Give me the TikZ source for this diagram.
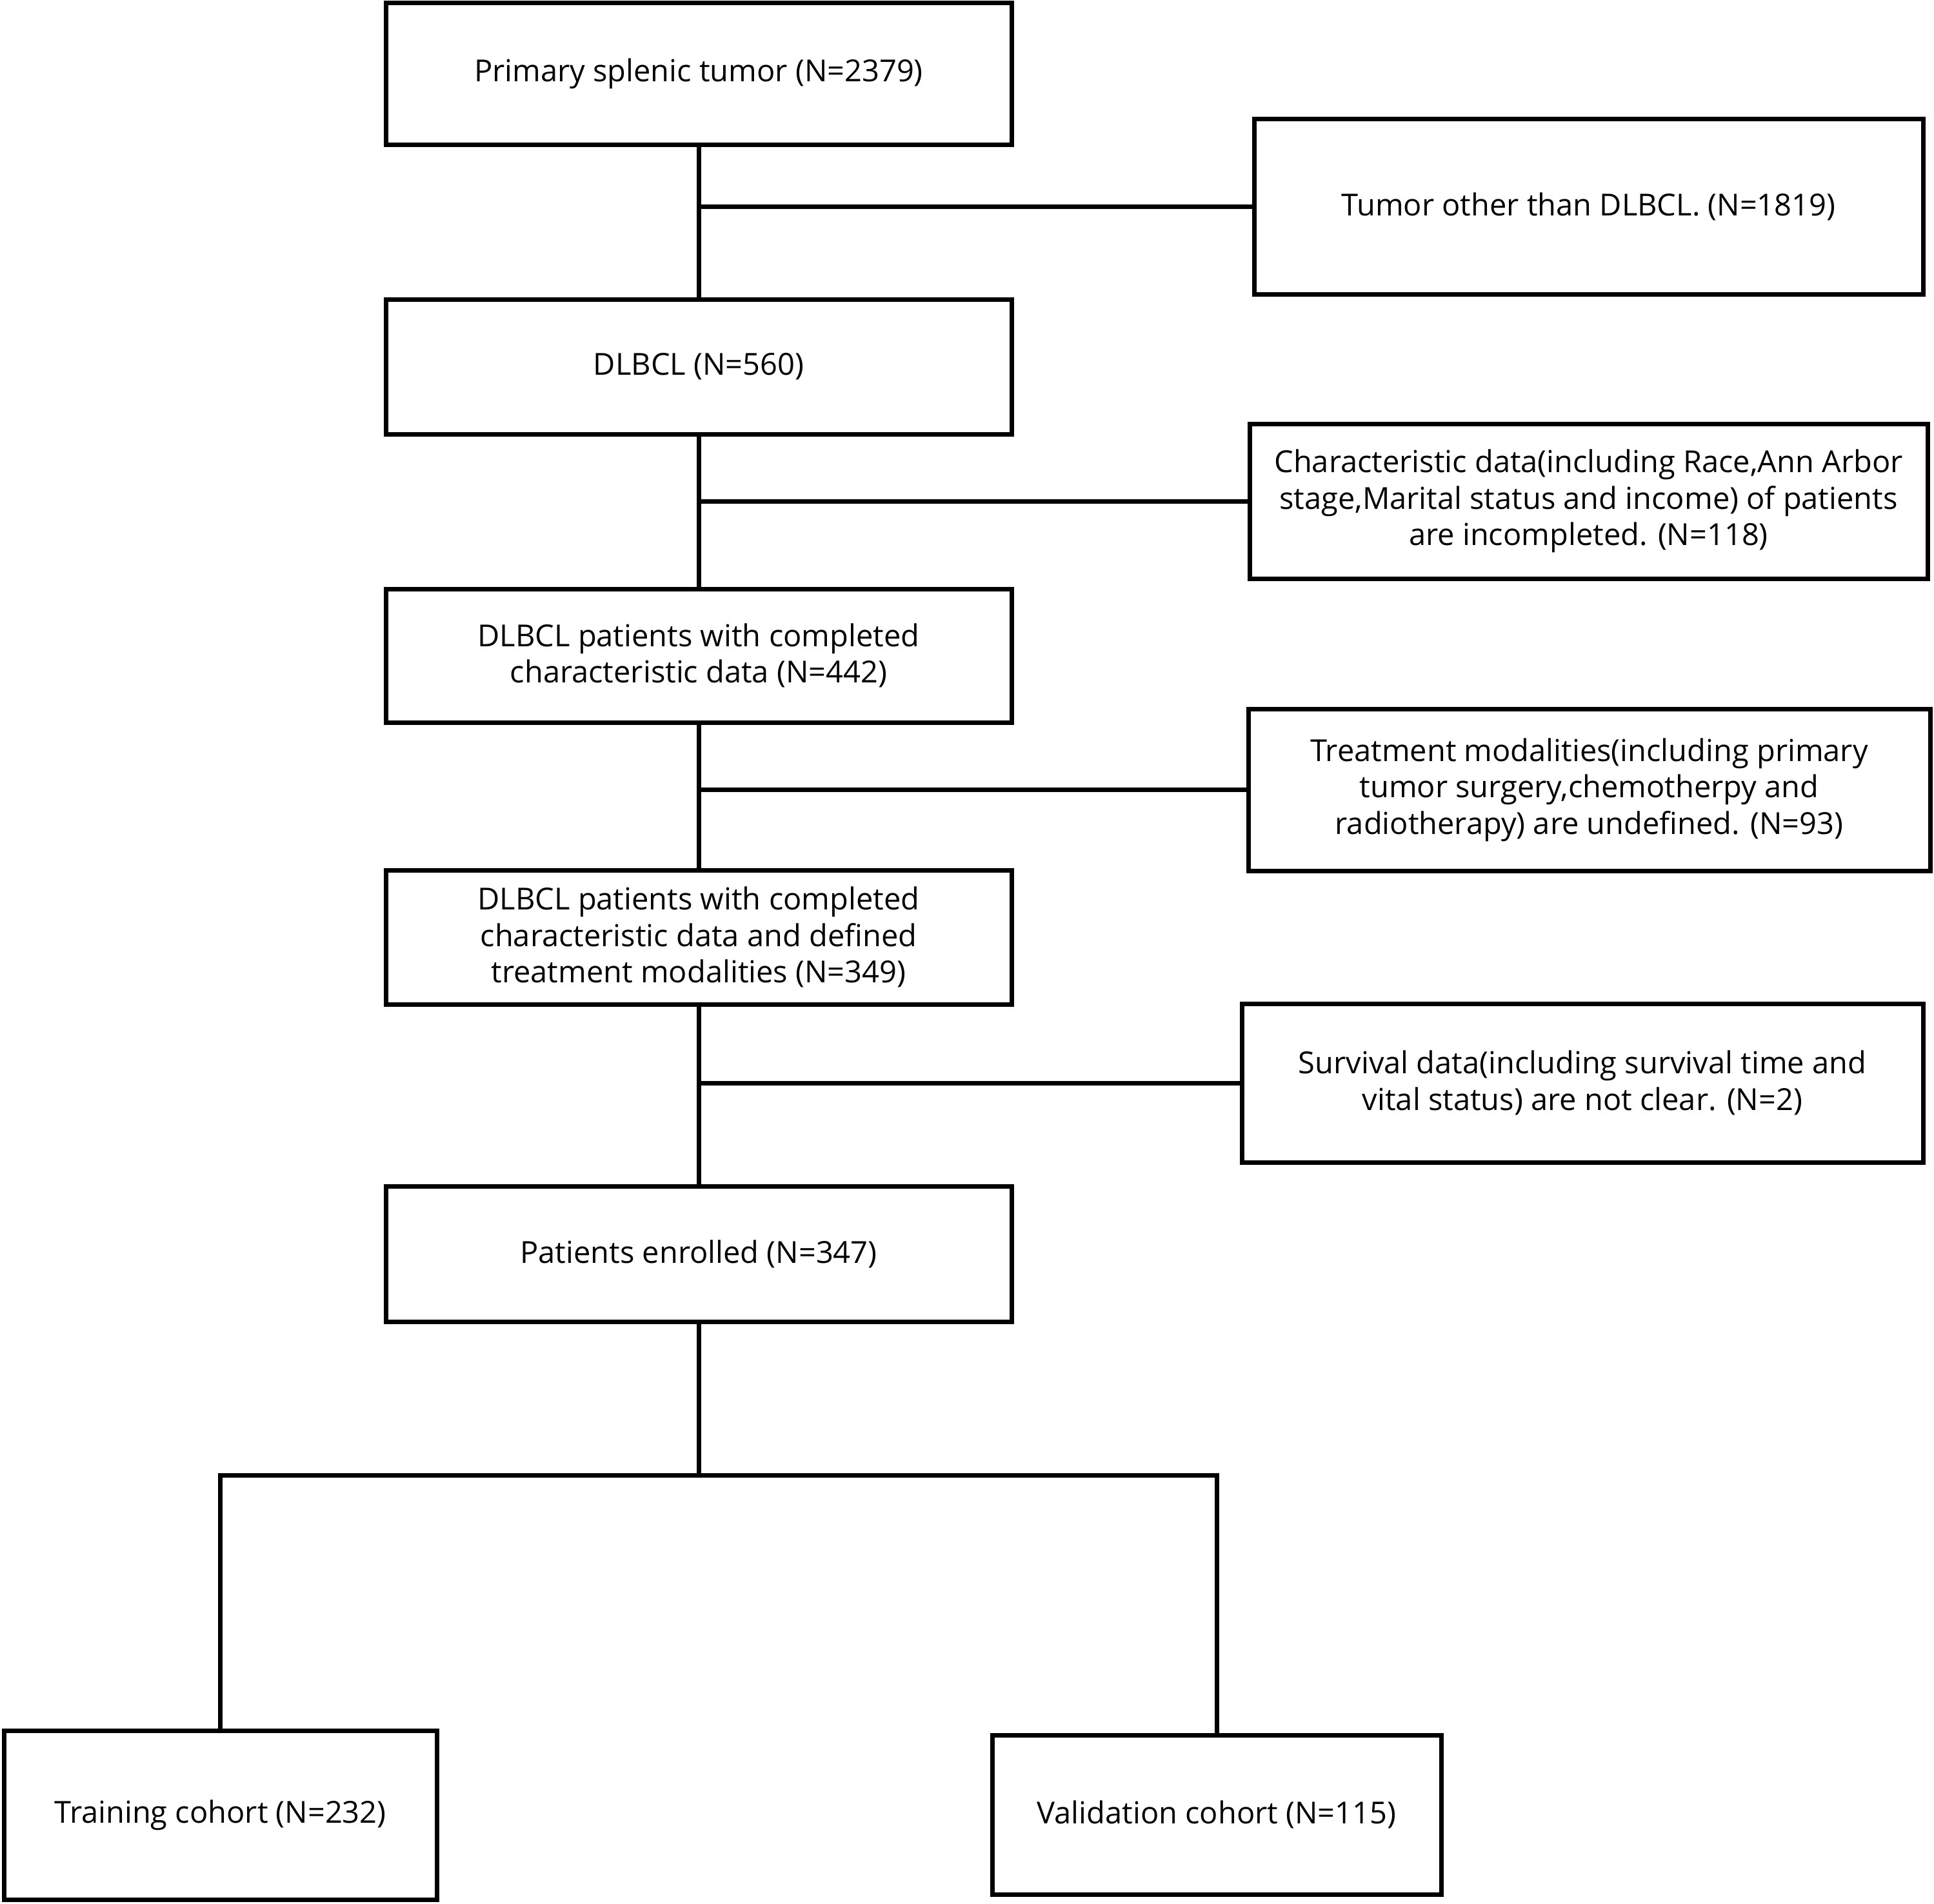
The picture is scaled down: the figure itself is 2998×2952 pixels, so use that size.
\documentclass[tikz,border=0pt]{standalone}
\usepackage{fontspec}
\setmainfont{Open Sans}
\begin{document}
\begin{tikzpicture}[x=1pt,y=-1pt,line width=7pt,
  box/.style={draw,black,fill=white,align=center,inner sep=0pt,font=\fontsize{47}{56.5}\selectfont}]
  \useasboundingbox (0,0) rectangle (2998,2952);
  % main column
  \node[box,minimum width=970pt,minimum height=219pt] (m1) at (1083,114.5) {Primary splenic tumor (N=2379)};
  \node[box,minimum width=970pt,minimum height=209pt] (m2) at (1083,568.5) {DLBCL (N=560)};
  \node[box,minimum width=970pt,minimum height=207pt] (m3) at (1083,1016.5) {DLBCL patients with completed\\characteristic data (N=442)};
  \node[box,minimum width=970pt,minimum height=208pt] (m4) at (1083,1453) {DLBCL patients with completed\\characteristic data and defined\\treatment modalities (N=349)};
  \node[box,minimum width=970pt,minimum height=210pt] (m5) at (1083,1944) {Patients enrolled (N=347)};
  % excluded
  \node[box,minimum width=1037pt,minimum height=272pt] (e1) at (2462.5,320) {Tumor other than DLBCL. (N=1819)};
  \node[box,minimum width=1051pt,minimum height=240pt] (e2) at (2462.5,777) {Characteristic data(including Race,Ann Arbor\\stage,Marital status and income) of patients\\are incompleted. (N=118)};
  \node[box,minimum width=1057pt,minimum height=251pt] (e3) at (2463.5,1224.5) {Treatment modalities(including primary\\tumor surgery,chemotherpy and\\radiotherapy) are undefined. (N=93)};
  \node[box,minimum width=1056pt,minimum height=246pt] (e4) at (2453,1679) {Survival data(including survival time and\\vital status) are not clear. (N=2)};
  % cohorts
  \node[box,minimum width=671pt,minimum height=262pt] (t) at (341.5,2814) {Training cohort (N=232)};
  \node[box,minimum width=696pt,minimum height=247pt] (v) at (1886,2813.5) {Validation cohort (N=115)};
  \coordinate (split) at (1083,2287);
  \draw (m1.south) -- (m2.north);
  \draw (m2.south) -- (m3.north);
  \draw (m3.south) -- (m4.north);
  \draw (m4.south) -- (m5.north);
  \draw (e1.west) -- (e1.west -| m1.south);
  \draw (e2.west) -- (e2.west -| m2.south);
  \draw (e3.west) -- (e3.west -| m3.south);
  \draw (e4.west) -- (e4.west -| m4.south);
  \draw (m5.south) -- (split);
  \draw (t.north) |- (split) -| (v.north);
\end{tikzpicture}
\end{document}
